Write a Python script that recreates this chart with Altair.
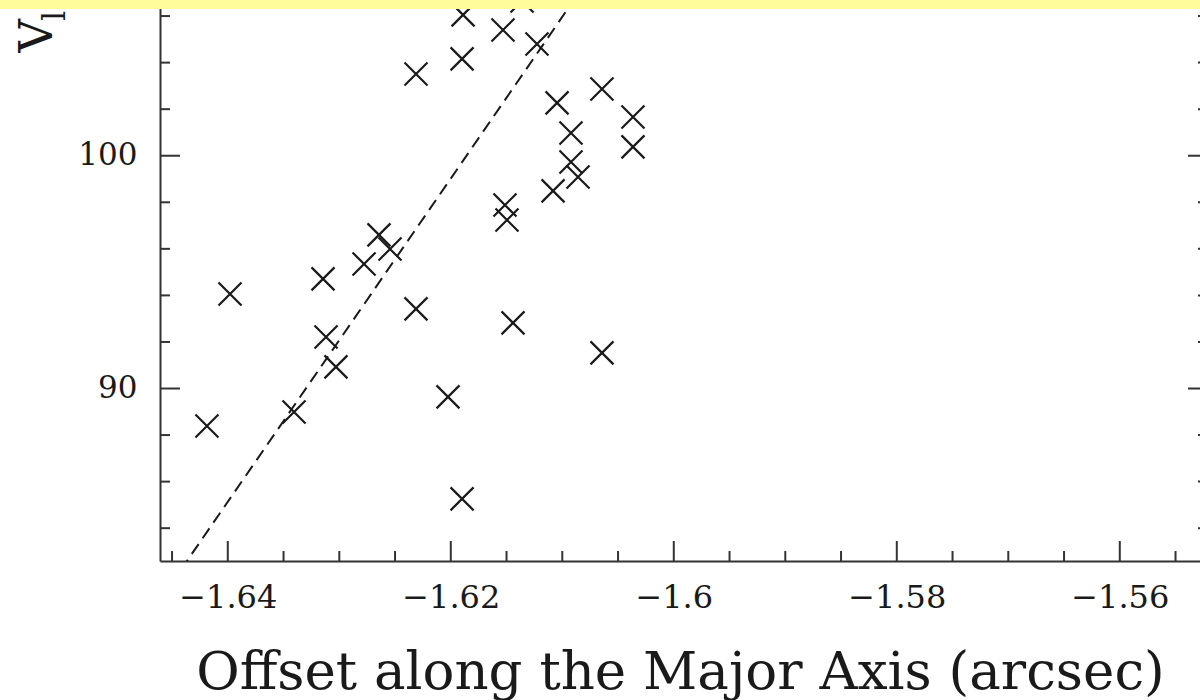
import altair as alt
import pandas as pd

# ---- data ----
offset_arcsec = [-1.64187, -1.63980, -1.63406, -1.63146, -1.63119, -1.63030,
                 -1.62778, -1.62644, -1.62545, -1.62312, -1.62312, -1.62025,
                 -1.61899, -1.61899, -1.61890, -1.61532, -1.61514, -1.61496,
                 -1.61442, -1.61361, -1.61227, -1.61083, -1.61047, -1.60922,
                 -1.60922, -1.60859, -1.60644, -1.60644, -1.60366, -1.60366]
velocity = [88.39, 94.06, 88.99, 94.71, 92.21, 90.93,
            95.35, 96.60, 95.99, 103.51, 93.42, 89.64,
            85.26, 104.16, 106.05, 105.40, 97.88, 97.24,
            92.82, 106.65, 104.80, 98.49, 102.27, 100.98,
            99.73, 99.09, 102.87, 91.53, 101.66, 100.38]

fit_x = [-1.650, -1.600]
fit_v = [78.19, 112.91]

x_major = [-1.64, -1.62, -1.60, -1.58, -1.56]
x_minor = [-1.645, -1.635, -1.630, -1.625, -1.615, -1.610, -1.605,
           -1.595, -1.590, -1.585, -1.575, -1.570, -1.565, -1.555]
y_major = [90, 100]
y_minor = [84, 86, 88, 92, 94, 96, 98, 102, 104, 106]

x_domain = [-1.64608, -1.552806]
y_domain = [82.59, 106.69]

W, H = 1040, 561
FONT = "DejaVu Serif"
INK = "#1a1a1a"

pts = pd.DataFrame({"x": offset_arcsec, "v": velocity})
fit = pd.DataFrame({"x": fit_x, "v": fit_v})
xmaj = pd.DataFrame({"x": x_major})
xmin = pd.DataFrame({"x": x_minor})
ymaj = pd.DataFrame({"v": y_major})
ymin = pd.DataFrame({"v": y_minor})

xs = alt.Scale(domain=x_domain, nice=False, zero=False)
ys = alt.Scale(domain=y_domain, nice=False, zero=False)

xa = alt.Axis(
    values=x_major, format="~g", ticks=False, tickSize=0, grid=False,
    domainColor="#333333", domainWidth=2,
    labelFont=FONT, labelFontSize=32, labelColor=INK, labelPadding=21,
    title="Offset along the Major Axis (arcsec)",
    titleFont=FONT, titleFontSize=53, titleFontWeight="normal",
    titleColor=INK, titleY=127, titleBaseline="alphabetic")
ya = alt.Axis(
    values=y_major, ticks=False, tickSize=0, grid=False,
    domainColor="#333333", domainWidth=2,
    labelFont=FONT, labelFontSize=31, labelColor=INK, labelPadding=23,
    title="")

X = alt.X("x:Q", scale=xs, axis=xa, title="Offset along the Major Axis (arcsec)")
Y = alt.Y("v:Q", scale=ys, axis=ya, title="")

cross = "M-1,-1L1,1M-1,1L1,-1"

points = alt.Chart(pts).mark_point(
    shape=cross, size=529, filled=False, stroke=INK, strokeWidth=2.2, opacity=1
).encode(x=X, y=Y)

fit_line = alt.Chart(fit).mark_line(
    clip=True, stroke=INK, strokeWidth=2, strokeDash=[12, 7]
).encode(x=X, y=Y)

TICK = "#333333"
bx_major = alt.Chart(xmaj).mark_rule(color=TICK, strokeWidth=2).encode(
    x=X, y=alt.value(H), y2=alt.value(H - 20))
bx_minor = alt.Chart(xmin).mark_rule(color=TICK, strokeWidth=2).encode(
    x=X, y=alt.value(H), y2=alt.value(H - 10))
ly_major = alt.Chart(ymaj).mark_rule(color=TICK, strokeWidth=2).encode(
    y=Y, x=alt.value(0), x2=alt.value(20))
ly_minor = alt.Chart(ymin).mark_rule(color=TICK, strokeWidth=2).encode(
    y=Y, x=alt.value(0), x2=alt.value(10))
ry_major = alt.Chart(ymaj).mark_rule(color=TICK, strokeWidth=2).encode(
    y=Y, x=alt.value(W + 8), x2=alt.value(W - 12))
ry_minor = alt.Chart(ymin).mark_rule(color=TICK, strokeWidth=2).encode(
    y=Y, x=alt.value(W + 8), x2=alt.value(W - 2))

ylab_main = alt.Chart(pd.DataFrame({"t": ["V"]})).mark_text(
    font=FONT, fontSize=46, angle=270, align="center", baseline="alphabetic", color=INK
).encode(text="t:N", x=alt.value(-108), y=alt.value(36))
ylab_sub = alt.Chart(pd.DataFrame({"t": ["l"]})).mark_text(
    font=FONT, fontSize=32, angle=270, align="center", baseline="alphabetic", color=INK
).encode(text="t:N", x=alt.value(-95), y=alt.value(16))

band = alt.Chart(pd.DataFrame({"b": [1]})).mark_rect(color="#fffc99").encode(
    x=alt.value(-170), x2=alt.value(W + 20), y=alt.value(-5), y2=alt.value(9))

chart = alt.layer(
    fit_line, bx_major, bx_minor, ly_major, ly_minor, ry_major, ry_minor,
    points, ylab_main, ylab_sub, band
).properties(
    width=W, height=H,
    autosize=alt.AutoSizeParams(type="none"),
    padding={"left": 160, "top": 0, "right": 0, "bottom": 139},
    background="white",
).configure_view(stroke=None)

chart.save("out.html", embed_options={"renderer": "svg", "actions": False})
